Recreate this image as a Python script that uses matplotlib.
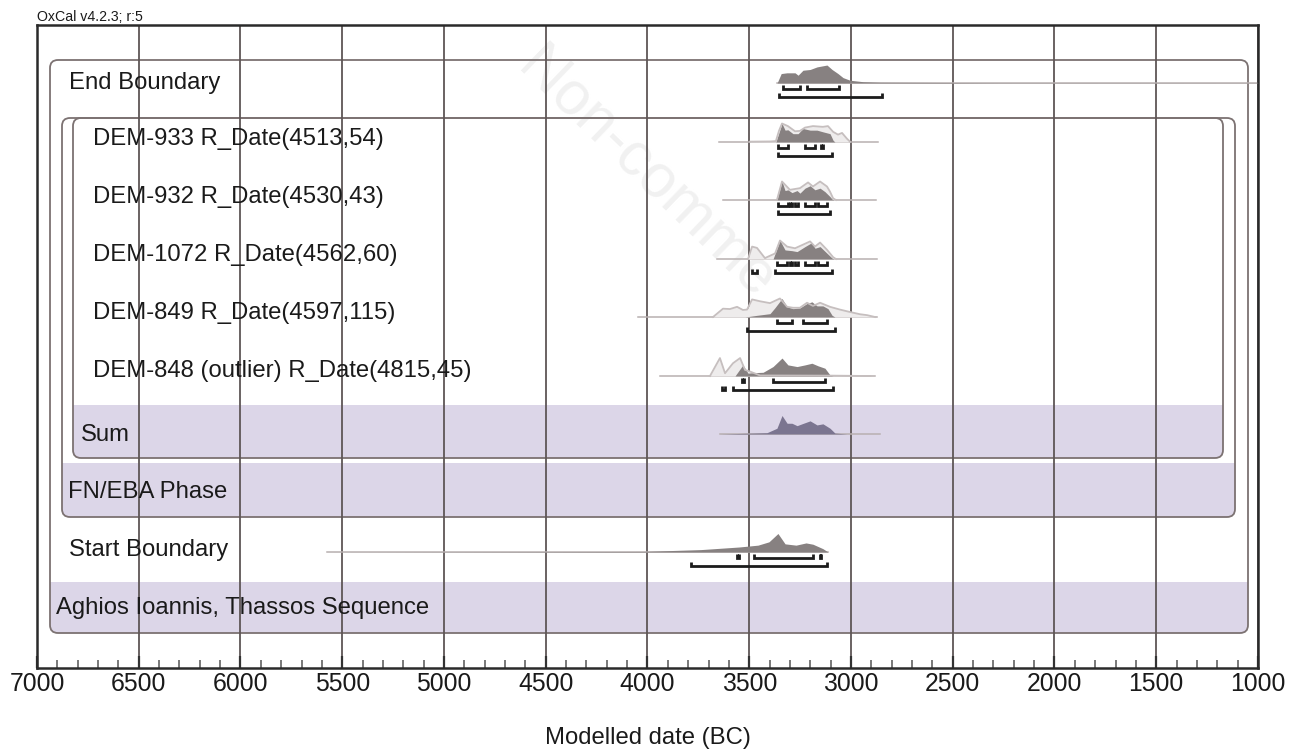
import matplotlib
matplotlib.use('Agg')
import matplotlib.pyplot as plt
from matplotlib.patches import FancyBboxPatch, Rectangle

plt.rcParams['font.family'] = ['Liberation Sans', 'DejaVu Sans']

# ---- data: years BC against relative probability (max ~1) ----
# End Boundary (posterior only)
end_yr = [3363, 3343, 3315, 3275, 3260, 3236, 3201, 3167, 3118, 3093, 3064, 3039, 3005, 2941, 2857, 2268, 1000]
end_p = [0, 0.51, 0.55, 0.55, 0.42, 0.69, 0.73, 0.87, 0.97, 0.73, 0.51, 0.29, 0.15, 0.07, 0.04, 0.015, 0.01]
end_r68 = [(3334, 3251), (3216, 3059)]
end_r95 = [(3354, 2847)]

# DEM-933
d933_span = (3649, 2867)
d933_prior_yr = [3496, 3398, 3369, 3354, 3339, 3310, 3275, 3251, 3226, 3187, 3138, 3113, 3088, 3064, 3044, 3020, 3005]
d933_prior_p = [0.02, 0.03, 0.05, 0.6, 1.0, 0.86, 0.58, 0.6, 0.78, 0.86, 0.82, 0.86, 0.55, 0.4, 0.49, 0.18, 0.02]
d933_post_yr = [3369, 3339, 3324, 3310, 3285, 3260, 3236, 3201, 3167, 3138, 3103, 3088, 3079]
d933_post_p = [0, 1.0, 0.64, 0.66, 0.45, 0.45, 0.73, 0.64, 0.64, 0.55, 0.45, 0.09, 0]
d933_r68 = [(3359, 3310), (3226, 3177), (3145, 3140)]
d933_r95 = [(3359, 3093)]

# DEM-932
d932_span = (3629, 2877)
d932_prior_yr = [3364, 3339, 3300, 3251, 3211, 3187, 3152, 3118, 3103, 3088, 3074]
d932_prior_p = [0, 1.0, 0.55, 0.64, 0.95, 0.73, 1.0, 0.73, 0.45, 0.09, 0]
d932_post_yr = [3364, 3339, 3324, 3310, 3290, 3265, 3251, 3226, 3201, 3177, 3152, 3128, 3103, 3093, 3083]
d932_post_p = [0, 1.0, 0.51, 0.55, 0.4, 0.51, 0.37, 0.64, 0.77, 0.55, 0.64, 0.45, 0.18, 0.05, 0]
d932_r68 = [(3359, 3310), (3300, 3290), (3275, 3260), (3226, 3177), (3162, 3118)]
d932_r95 = [(3359, 3103)]

# DEM-1072
d1072_span = (3658, 2872)
d1072_prior_yr = [3506, 3486, 3462, 3423, 3373, 3349, 3314, 3275, 3241, 3201, 3177, 3152, 3118, 3088, 3074]
d1072_prior_p = [0, 0.67, 0.6, 0.05, 0.3, 1.0, 0.67, 0.58, 0.75, 0.95, 0.67, 0.89, 0.5, 0.1, 0]
d1072_post_yr = [3383, 3349, 3324, 3290, 3265, 3226, 3192, 3177, 3152, 3118, 3093, 3083]
d1072_post_p = [0, 1.0, 0.49, 0.45, 0.4, 0.67, 0.89, 0.58, 0.67, 0.31, 0.05, 0]
d1072_r68 = [(3364, 3314), (3300, 3290), (3275, 3260), (3226, 3177), (3162, 3118)]
d1072_r95 = [(3486, 3462), (3373, 3093)]

# DEM-849
d849_span = (4047, 2872)
d849_prior_yr = [3678, 3629, 3595, 3560, 3531, 3511, 3486, 3447, 3398, 3349, 3314, 3285, 3251, 3216, 3187, 3152, 3103, 3054, 3005, 2956, 2921, 2882]
d849_prior_p = [0, 0.45, 0.43, 0.55, 0.38, 0.4, 0.95, 0.85, 0.75, 1.0, 0.55, 0.5, 0.5, 0.77, 0.6, 0.77, 0.55, 0.4, 0.27, 0.15, 0.1, 0]
d849_post_yr = [3521, 3462, 3398, 3373, 3339, 3314, 3285, 3251, 3216, 3192, 3167, 3138, 3113, 3093, 3079]
d849_post_p = [0, 0.09, 0.18, 0.51, 1.0, 0.55, 0.45, 0.49, 0.73, 0.82, 0.6, 0.6, 0.45, 0.09, 0]
d849_r68 = [(3364, 3290), (3236, 3118)]
d849_r95 = [(3511, 3079)]

# DEM-848 (outlier)
d848_span = (3939, 2882)
d848_prior_yr = [3693, 3644, 3619, 3580, 3545, 3521, 3496, 3447, 3103, 2906]
d848_prior_p = [0, 0.97, 0.15, 0.69, 0.97, 0.33, 0.24, 0.03, 0.02, 0]
d848_post_yr = [3570, 3531, 3506, 3481, 3432, 3383, 3339, 3310, 3265, 3226, 3192, 3162, 3128, 3103, 3088]
d848_post_p = [0, 0.6, 0.15, 0.18, 0.2, 0.51, 0.97, 0.6, 0.51, 0.6, 0.69, 0.55, 0.42, 0.05, 0]
d848_r68 = [(3536, 3526), (3383, 3128)]
d848_r95 = [(3634, 3619), (3580, 3088)]

# Sum
sum_span = (3644, 2857)
sum_yr = [3644, 3413, 3364, 3339, 3314, 3290, 3265, 3241, 3201, 3167, 3138, 3103, 3079, 3020]
sum_p = [0, 0.07, 0.31, 1.0, 0.58, 0.58, 0.45, 0.55, 0.71, 0.49, 0.55, 0.31, 0.05, 0]

# Start Boundary
start_yr = [5575, 4022, 3737, 3550, 3457, 3403, 3359, 3324, 3270, 3221, 3187, 3138, 3113]
start_p = [0, 0.03, 0.13, 0.27, 0.37, 0.55, 1.0, 0.44, 0.37, 0.49, 0.42, 0.18, 0]
start_r68 = [(3560, 3550), (3477, 3187), (3152, 3148)]
start_r95 = [(3786, 3118)]

row_labels = ['End Boundary', 'DEM-933 R_Date(4513,54)', 'DEM-932 R_Date(4530,43)',
              'DEM-1072 R_Date(4562,60)', 'DEM-849 R_Date(4597,115)',
              'DEM-848 (outlier) R_Date(4815,45)', 'Sum', 'FN/EBA Phase',
              'Start Boundary', 'Aghios Ioannis, Thassos Sequence']

# ---- layout (figure pixel units) ----
W, H = 1289, 752
X0, X1, Y0, Y1 = 37, 1258, 25, 668
rect = [X0 / W, 1 - Y1 / H, (X1 - X0) / W, (Y1 - Y0) / H]


def px(p):
    return 7000 - (p - X0) * 6000 / (X1 - X0)


fig = plt.figure(figsize=(W / 100, H / 100), dpi=100)

# background axes in pixel units for the group boxes
bg = fig.add_axes(rect, zorder=0)
bg.set_xlim(X0, X1)
bg.set_ylim(Y1, Y0)
bg.axis('off')

ax = fig.add_axes(rect, zorder=1)
ax.patch.set_alpha(0)
ax.set_xlim(7000, 1000)
ax.set_ylim(Y1, Y0)

FS = 17.2
PURPLE = '#dcd6e8'
EDGE = '#7c7272'


def rbox(x0, x1, y0, y1, band=None):
    b = FancyBboxPatch((x0, y0), x1 - x0, y1 - y0,
                       boxstyle='round,pad=0,rounding_size=8',
                       fc='none', ec=EDGE, lw=1.3, zorder=2)
    bg.add_patch(b)
    if band:
        r = Rectangle((x0, band[0]), x1 - x0, band[1] - band[0],
                      fc=PURPLE, ec='none', zorder=1)
        bg.add_patch(r)
        r.set_clip_path(b)


rbox(50, 1248, 60, 633, band=(582, 633))
rbox(62, 1235, 118, 517, band=(463, 517))
rbox(73, 1223, 118, 458, band=(405, 458))

# faint watermark
bg.text(515, 70, 'Non-comme', fontsize=44, color='#f1f1f1', rotation=-44,
        rotation_mode='anchor', ha='left', va='baseline', zorder=0.5)

# labels
label_pos = [(69, 83), (93, 139), (93, 197), (93, 255), (93, 313), (93, 371),
             (81, 435), (68, 492), (69, 550), (56, 608)]
for t, (lx, ly) in zip(row_labels, label_pos):
    ax.text(px(lx), ly, t, fontsize=FS, color='#1a1a1a', ha='left', va='center', zorder=4)

HSC = 18.5
POST = '#878181'
PRIOR_LINE = '#c6bfbf'
PRIOR_FILL = '#eeecec'
BASE = '#b8b0b0'


def dist(base, yr, p, color=POST, span=None):
    if span is None:
        span = (yr[0], yr[-1])
    ax.plot(span, [base, base], color=BASE, lw=1.1, zorder=2)
    top = [base - v * HSC for v in p]
    ax.fill_between(yr, top, base, color=color, lw=0, zorder=3)


def prior(base, yr, p):
    top = [base - v * HSC for v in p]
    ax.fill_between(yr, top, base, color=PRIOR_FILL, lw=0, zorder=2.5)
    ax.plot(yr, top, color=PRIOR_LINE, lw=1.3, zorder=3.5)


def brackets(base, r68, r95):
    for off, rr in ((6, r68), (14, r95)):
        y = base + off
        for a, b in rr:
            ax.plot([a, a, b, b], [y - 4, y, y, y - 4], color='#1c1c1c', lw=2,
                    solid_capstyle='butt', solid_joinstyle='miter', zorder=4)


dist(83, end_yr, end_p)
brackets(83, end_r68, end_r95)

rows = [(142, d933_span, d933_prior_yr, d933_prior_p, d933_post_yr, d933_post_p, d933_r68, d933_r95),
        (200, d932_span, d932_prior_yr, d932_prior_p, d932_post_yr, d932_post_p, d932_r68, d932_r95),
        (259, d1072_span, d1072_prior_yr, d1072_prior_p, d1072_post_yr, d1072_post_p, d1072_r68, d1072_r95),
        (317, d849_span, d849_prior_yr, d849_prior_p, d849_post_yr, d849_post_p, d849_r68, d849_r95),
        (376, d848_span, d848_prior_yr, d848_prior_p, d848_post_yr, d848_post_p, d848_r68, d848_r95)]
for base, span, pyr, pp, qyr, qp, r68, r95 in rows:
    dist(base, qyr, qp, span=span)
    prior(base, pyr, pp)
    brackets(base, r68, r95)

dist(434, sum_yr, sum_p, color='#7b7590', span=sum_span)

dist(552, start_yr, start_p)
brackets(552, start_r68, start_r95)

# axis, grid, ticks
ax.set_xticks(range(1000, 7001, 500))
ax.set_xticks(range(1000, 7001, 100), minor=True)
ax.set_yticks([])
ax.tick_params(axis='x', which='major', direction='in', length=9, width=1.6,
               color='#333333', labelsize=FS + 0.6, pad=3, labelcolor='#1a1a1a')
ax.tick_params(axis='x', which='minor', direction='in', length=6, width=1.1, color='#555555')
ax.set_axisbelow('line')
ax.grid(axis='x', which='major', color='#5e5656', lw=1.3)
for s in ax.spines.values():
    s.set_linewidth(1.8)
    s.set_color('#2a2a2a')

fig.text(648 / W, 1 - 738 / H, 'Modelled date (BC)', fontsize=FS, ha='center', va='center',
         color='#1a1a1a')
fig.text(X0 / W, 1 - 17 / H, 'OxCal v4.2.3; r:5', fontsize=10.2, ha='left', va='center',
         color='#1a1a1a')

fig.savefig('out.png', dpi=100)
